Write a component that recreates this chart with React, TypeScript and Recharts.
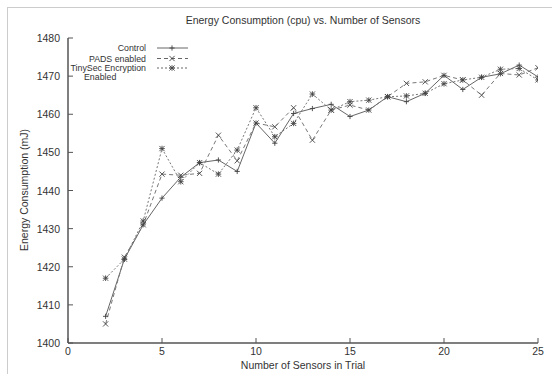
import React from "react";
import { LineChart, Line, XAxis, YAxis } from "recharts";

const sensors = [2, 3, 4, 5, 6, 7, 8, 9, 10, 11, 12, 13, 14, 15, 16, 17, 18, 19, 20, 21, 22, 23, 24, 25];
const control = [1407, 1422, 1431, 1438, 1443.5, 1447.3, 1448, 1445, 1457.7, 1452.4, 1460.2, 1461.5, 1462.6, 1459.4, 1461.1, 1464.6, 1463.3, 1465.5, 1470.2, 1466.5, 1469.7, 1470.6, 1472.9, 1469.8];
const pads = [1405, 1422.5, 1431, 1444.3, 1444, 1444.5, 1454.5, 1447.8, 1457.7, 1456.7, 1461.7, 1453.2, 1461.1, 1462.4, 1461.1, 1464.6, 1468.1, 1468.5, 1470.2, 1469, 1465, 1470.7, 1470.3, 1472.2];
const tinysec = [1417, 1422, 1432, 1451, 1442.3, 1447.3, 1444.3, 1450.6, 1461.7, 1454.1, 1457.6, 1465.3, 1461.1, 1463.3, 1463.7, 1464.6, 1464.8, 1465.5, 1468, 1469, 1469.7, 1471.8, 1472, 1469];

const xTicks = [0, 5, 10, 15, 20, 25];
const yTicks = [1400, 1410, 1420, 1430, 1440, 1450, 1460, 1470, 1480];

const rows = sensors.map((s, i) => ({
  sensors: s,
  control: control[i],
  pads: pads[i],
  tinysec: tinysec[i],
}));

const FONT = '"Liberation Sans", Arial, sans-serif';
const FRAME = "#555";
const TEXT = "#333";
const MARK = "#444";

function Plus({ cx, cy, r = 2.6 }: any) {
  return (
    <g stroke={MARK} strokeWidth={0.9}>
      <line x1={cx - r} x2={cx + r} y1={cy} y2={cy} />
      <line x1={cx} x2={cx} y1={cy - r} y2={cy + r} />
    </g>
  );
}

function Cross({ cx, cy, r = 2.6 }: any) {
  return (
    <g stroke={MARK} strokeWidth={0.9}>
      <line x1={cx - r} x2={cx + r} y1={cy - r} y2={cy + r} />
      <line x1={cx - r} x2={cx + r} y1={cy + r} y2={cy - r} />
    </g>
  );
}

function Star({ cx, cy }: any) {
  return (
    <g>
      <Plus cx={cx} cy={cy} r={2.8} />
      <Cross cx={cx} cy={cy} r={2.6} />
    </g>
  );
}

const BottomTick = ({ x, y, payload }: any) => (
  <g>
    <line x1={x} x2={x} y1={y - 4} y2={y - 9} stroke={FRAME} />
    <text x={x} y={y} dy={8} textAnchor="middle" fontSize={10.5} fill={TEXT} fontFamily={FONT}>
      {payload.value}
    </text>
  </g>
);

const LeftTick = ({ x, y, payload }: any) => (
  <g>
    <line x1={x + 8} x2={x + 13} y1={y} y2={y} stroke={FRAME} />
    <text x={x} y={y} dy={4} textAnchor="end" fontSize={10.5} fill={TEXT} fontFamily={FONT}>
      {payload.value}
    </text>
  </g>
);

const TopTick = ({ x, y }: any) => <line x1={x} x2={x} y1={y} y2={y + 5} stroke={FRAME} />;
const RightTick = ({ x, y }: any) => <line x1={x} x2={x - 5} y1={y} y2={y} stroke={FRAME} />;

function LegendBox() {
  const items = [
    { label: "Control", y: 48, dash: undefined, Mark: Plus },
    { label: "PADS enabled", y: 58.5, dash: "4 3", Mark: Cross },
    { label: "TinySec Encryption", y: 68, dash: "2 2", Mark: Star },
  ];
  return (
    <svg width={552} height={100} style={{ position: "absolute", left: 0, top: 0, pointerEvents: "none" }}>
      {items.map((it) => (
        <g key={it.label}>
          <text x={146} y={it.y} dy={3} textAnchor="end" fontSize={8.8} fill={TEXT} fontFamily={FONT}>
            {it.label}
          </text>
          <line x1={157} x2={188} y1={it.y} y2={it.y} stroke="#666" strokeDasharray={it.dash} />
          <it.Mark cx={172} cy={it.y} />
        </g>
      ))}
      <text x={84} y={77} dy={3} fontSize={8.8} fill={TEXT} fontFamily={FONT}>
        Enabled
      </text>
    </svg>
  );
}

export default function App() {
  return (
    <div style={{ position: "absolute", left: 0, top: 0, width: 552, height: 374, background: "#fff", fontFamily: FONT }}>
      <div style={{ position: "absolute", left: 7, top: 7, width: 545, height: 367, borderTop: "1px solid #ccc", borderLeft: "1px solid #ccc" }} />
      <div style={{ position: "absolute", left: 68, width: 470, top: 14, textAlign: "center", fontSize: 10.5, color: TEXT }}>
        Energy Consumption (cpu) vs. Number of Sensors
      </div>
      <div style={{ position: "absolute", left: 68, width: 470, top: 359, textAlign: "center", fontSize: 10.5, lineHeight: "12px", color: TEXT }}>
        Number of Sensors in Trial
      </div>
      <div
        style={{
          position: "absolute",
          left: 24,
          top: 190,
          transform: "translate(-50%, -50%) rotate(-90deg)",
          whiteSpace: "nowrap",
          fontSize: 10.5,
          color: TEXT,
        }}
      >
        Energy Consumption (mJ)
      </div>
      <LineChart width={552} height={374} data={rows} margin={{ top: 38, right: 14, bottom: 11, left: 28 }}>
        <XAxis
          dataKey="sensors"
          type="number"
          domain={[0, 25]}
          ticks={xTicks}
          allowDataOverflow
          height={20}
          tickSize={0}
          tickMargin={4}
          tickLine={false}
          axisLine={{ stroke: FRAME, strokeWidth: 1.5 }}
          tick={<BottomTick />}
          interval={0}
        />
        <XAxis
          xAxisId="top"
          dataKey="sensors"
          orientation="top"
          type="number"
          domain={[0, 25]}
          ticks={xTicks}
          height={0}
          tickSize={0}
          tickMargin={0}
          tickLine={false}
          axisLine={{ stroke: FRAME, strokeWidth: 1.5 }}
          tick={<TopTick />}
          interval={0}
        />
        <YAxis
          type="number"
          domain={[1400, 1480]}
          ticks={yTicks}
          allowDataOverflow
          width={40}
          tickSize={0}
          tickMargin={8}
          tickLine={false}
          axisLine={{ stroke: FRAME, strokeWidth: 1.5 }}
          tick={<LeftTick />}
          interval={0}
        />
        <YAxis
          yAxisId="right"
          orientation="right"
          type="number"
          domain={[1400, 1480]}
          ticks={yTicks}
          width={0}
          tickSize={0}
          tickMargin={0}
          tickLine={false}
          axisLine={{ stroke: FRAME, strokeWidth: 1.5 }}
          tick={<RightTick />}
          interval={0}
        />
        <Line
          dataKey="control"
          stroke="#666"
          strokeWidth={1}
          isAnimationActive={false}
          dot={(p: any) => <Plus key={`c${p.index}`} cx={p.cx} cy={p.cy} />}
          activeDot={false}
        />
        <Line
          dataKey="pads"
          stroke="#777"
          strokeWidth={1}
          strokeDasharray="4 3"
          isAnimationActive={false}
          dot={(p: any) => <Cross key={`p${p.index}`} cx={p.cx} cy={p.cy} />}
          activeDot={false}
        />
        <Line
          dataKey="tinysec"
          stroke="#777"
          strokeWidth={1}
          strokeDasharray="2 2"
          isAnimationActive={false}
          dot={(p: any) => <Star key={`t${p.index}`} cx={p.cx} cy={p.cy} />}
          activeDot={false}
        />
      </LineChart>
      <LegendBox />
    </div>
  );
}
